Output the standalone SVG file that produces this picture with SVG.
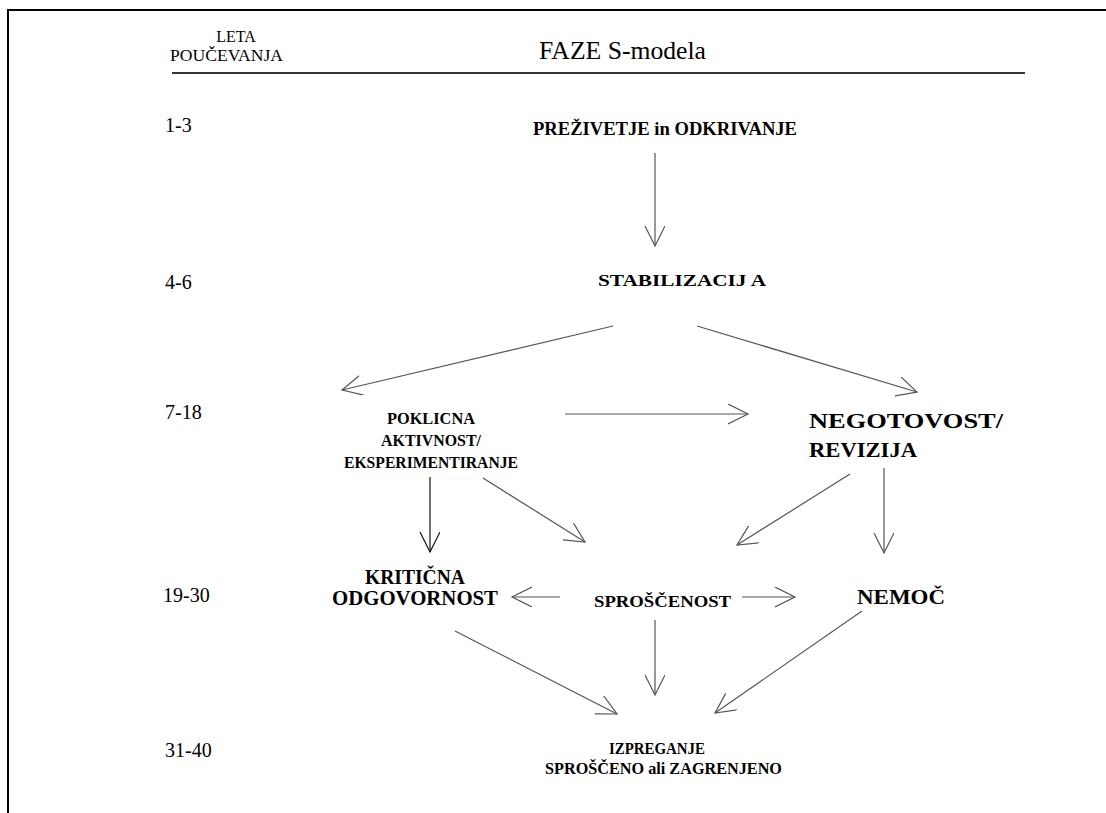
<svg xmlns="http://www.w3.org/2000/svg" width="1106" height="813" viewBox="0 0 1106 813">
<defs>
<marker id="ah" viewBox="0 0 22 22" markerUnits="userSpaceOnUse" markerWidth="22" markerHeight="22" refX="20" refY="10" orient="auto">
<path d="M0,0 L20,10 L0,20" fill="none" stroke="#555" stroke-width="1.2"/>
</marker>
<marker id="ahk" viewBox="0 0 22 22" markerUnits="userSpaceOnUse" markerWidth="22" markerHeight="22" refX="20" refY="10" orient="auto">
<path d="M0,0 L20,10 L0,20" fill="none" stroke="#111" stroke-width="1.2"/>
</marker>
</defs>
<style>
.t{font-family:"Liberation Serif","Times New Roman",serif;fill:#000}
.b{font-family:"Liberation Serif","Times New Roman",serif;font-weight:bold;fill:#000}
.c{fill:none;stroke:#555;stroke-width:1.2;marker-end:url(#ah)}
.k{fill:none;stroke:#111;stroke-width:1.2;marker-end:url(#ahk)}
</style>
<rect width="1106" height="813" fill="#fff"/>
<g id="frame">
<path d="M8,813 V10 H1106" fill="none" stroke="#000" stroke-width="2"/>
<line x1="172" y1="73" x2="1025" y2="73" stroke="#333" stroke-width="2"/>
</g>
<g id="header">
<text class="t" x="236" y="42" font-size="16" text-anchor="middle">LETA</text>
<text class="t" x="170" y="61" font-size="17" textLength="113" lengthAdjust="spacingAndGlyphs">POUČEVANJA</text>
<text class="t" x="539" y="59" font-size="25" textLength="167" lengthAdjust="spacingAndGlyphs">FAZE S-modela</text>
</g>
<g id="years">
<text class="t" x="165" y="132" font-size="20">1-3</text>
<text class="t" x="165" y="289" font-size="20">4-6</text>
<text class="t" x="165" y="419" font-size="20">7-18</text>
<text class="t" x="163" y="602" font-size="20">19-30</text>
<text class="t" x="165" y="757" font-size="20">31-40</text>
</g>
<g id="n1"><text class="b" x="533" y="135" font-size="19" textLength="264" lengthAdjust="spacingAndGlyphs">PREŽIVETJE in ODKRIVANJE</text></g>
<g id="n2"><text class="b" x="598" y="286" font-size="16" textLength="168" lengthAdjust="spacingAndGlyphs">STABILIZACIJ A</text></g>
<g id="n3">
<text class="b" x="431" y="424" font-size="17" text-anchor="middle" textLength="88" lengthAdjust="spacingAndGlyphs">POKLICNA</text>
<text class="b" x="431" y="446" font-size="17" text-anchor="middle" textLength="100" lengthAdjust="spacingAndGlyphs">AKTIVNOST/</text>
<text class="b" x="344" y="468" font-size="17" textLength="174" lengthAdjust="spacingAndGlyphs">EKSPERIMENTIRANJE</text>
</g>
<g id="n4">
<text class="b" x="809" y="428" font-size="20" textLength="194" lengthAdjust="spacingAndGlyphs">NEGOTOVOST/</text>
<text class="b" x="809" y="457" font-size="20" textLength="108" lengthAdjust="spacingAndGlyphs">REVIZIJA</text>
</g>
<g id="n5">
<text class="b" x="415" y="584" font-size="20" text-anchor="middle" textLength="100" lengthAdjust="spacingAndGlyphs">KRITIČNA</text>
<text class="b" x="332" y="605" font-size="20" textLength="166" lengthAdjust="spacingAndGlyphs">ODGOVORNOST</text>
</g>
<g id="n6"><text class="b" x="594" y="607" font-size="17" textLength="137" lengthAdjust="spacingAndGlyphs">SPROŠČENOST</text></g>
<g id="n7"><text class="b" x="857" y="604" font-size="20" textLength="88" lengthAdjust="spacingAndGlyphs">NEMOČ</text></g>
<g id="n8">
<text class="b" x="657" y="754" font-size="17" text-anchor="middle" textLength="96" lengthAdjust="spacingAndGlyphs">IZPREGANJE</text>
<text class="b" x="545" y="774" font-size="17" textLength="237" lengthAdjust="spacingAndGlyphs">SPROŠČENO ali ZAGRENJENO</text>
</g>
<g id="connectors">
<line class="c" x1="655" y1="153" x2="655" y2="246"/>
<line class="c" x1="613" y1="326" x2="342" y2="390"/>
<line class="c" x1="697" y1="326" x2="917" y2="392"/>
<line class="c" x1="565" y1="414" x2="748" y2="414"/>
<line class="k" x1="430" y1="477" x2="430" y2="552"/>
<line class="c" x1="483" y1="478" x2="585" y2="542"/>
<line class="c" x1="850" y1="474" x2="737" y2="545"/>
<line class="c" x1="884" y1="468" x2="884" y2="553"/>
<line class="c" x1="560" y1="597" x2="512" y2="597"/>
<line class="c" x1="742" y1="597" x2="795" y2="597"/>
<line class="c" x1="455" y1="631" x2="617" y2="714"/>
<line class="c" x1="655" y1="620" x2="655" y2="695"/>
<line class="c" x1="862" y1="611" x2="715" y2="713"/>
</g>
</svg>
